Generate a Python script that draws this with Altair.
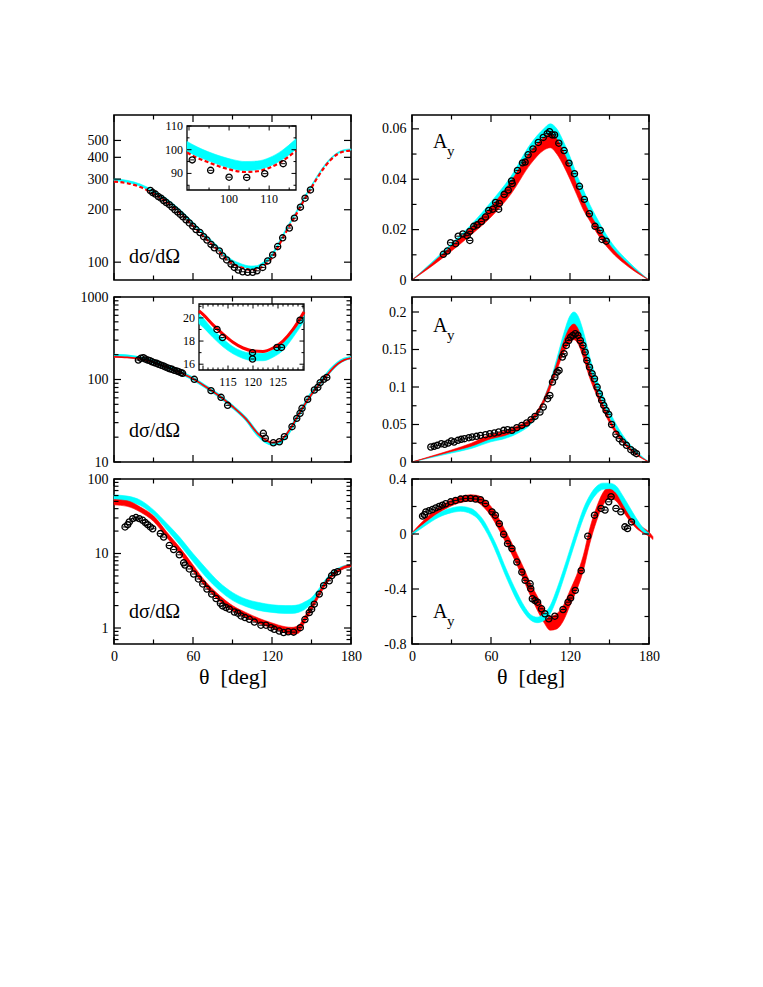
import altair as alt
import pandas as pd

FONT = "Liberation Serif"
CYAN = "#00FFFF"
RED = "#FF0000"
W, H = 237, 165
TMAJ, TMIN = 7, 4.5

# ---------------- Panel 1 (top-left) dsigma/dOmega ----------------
p1_t = [0, 10, 20, 30, 40, 50, 60, 70, 80, 85, 90, 95, 100, 104, 108, 112, 116, 120, 125, 130, 135, 140, 145, 150, 155, 160, 165, 170, 175, 180]
p1_red = [290, 284, 270, 247, 222, 192, 162, 136, 115, 104.5, 98, 94.3, 91.5, 90.3, 90.6, 93.5, 98.5, 106, 124, 146, 170, 198, 232, 268, 310, 352, 390, 418, 433, 437]
p1_cyan_lo = [293, 287, 273, 250, 224, 194, 164, 138, 117, 106, 99.3, 95.4, 92.6, 91.4, 91.7, 94.6, 99.7, 107.5, 125.5, 148, 172, 200, 234, 270, 312, 354, 392, 420, 435, 439]
p1_cyan_hi = [301, 295, 281, 258, 232, 201, 170, 143, 121, 110, 103, 99, 96, 95, 95.3, 98.5, 104, 112, 130, 153, 177, 206, 241, 277, 320, 362, 400, 428, 443, 447]
p1_data_t = [27.6, 29.4, 31.4, 33.7, 35.7, 37.7, 39.7, 42.0, 44.1, 46.3, 48.4, 50.4, 52.4, 54.7, 57.2, 59.8, 62.3, 65.3, 68.1, 70.6, 73.7, 76.2, 80.0, 82.5, 85.6, 88.9, 91.4, 94.4, 97.7, 101.5, 105.3, 108.6, 112.9, 116.7, 120.5, 124.3, 128.1, 133.2, 137.0, 141.6, 145.1, 149.2]
p1_data_v = [258, 251, 246, 238, 233, 226, 220, 214, 207, 200, 194, 188, 182, 175, 168, 161, 154, 148, 140, 134, 126.5, 121, 116, 108.6, 103, 97.5, 93.3, 90.1, 88.1, 87.4, 87.4, 89.2, 93.3, 101.7, 110, 123, 138, 157, 179, 207, 233, 260]
# inset 1
in1_t = [89.5, 92, 95, 98, 101, 104, 107, 110, 113, 116.7]
in1_red = [98.8, 96.6, 94.6, 92.7, 91.3, 90.6, 90.9, 92.3, 94.9, 99.6]
in1_cyan_lo = [99.4, 97.2, 95.2, 93.3, 91.9, 91.2, 91.5, 92.9, 95.5, 100.2]
in1_cyan_hi = [103.5, 101.2, 99, 97.2, 95.8, 95, 95.2, 96.6, 99.4, 104.6]
in1_data_t = [90.8, 95.4, 100.0, 104.4, 108.9, 113.5]
in1_data_v = [95.7, 91.3, 88.4, 88.3, 89.9, 94.1]

# ---------------- Panel 2 (middle-left) ----------------
p2_t = [0, 10, 20, 30, 40, 50, 60, 70, 80, 90, 100, 110, 115, 120, 125, 130, 135, 140, 145, 150, 155, 160, 165, 170, 175, 180]
p2_red = [188, 185, 177, 162, 141, 121, 102, 81, 63, 47, 33.5, 21.5, 18.6, 17.2, 17.6, 20.8, 27, 37, 50, 66, 84, 104, 130, 155, 173, 182]
p2_cyan = [195, 191, 181, 164, 142, 122, 102, 81, 63, 47, 33.5, 21, 17.8, 16.6, 17.0, 20.2, 26.5, 37, 50, 67, 85, 106, 132, 157, 175, 184]
p2_data_t = [18.5, 20.5, 22.3, 23.8, 25.6, 27.3, 28.9, 30.6, 32.4, 33.9, 35.7, 37.5, 39.0, 40.8, 42.5, 44.1, 45.8, 47.6, 49.1, 50.9, 52.1, 61.0, 73.7, 81.3, 86.3, 113.4, 114.9, 121.0, 125.6, 129.4, 135.2, 138.8, 141.3, 142.8, 147.1, 152.2, 154.8, 156.6, 159.3, 161.6]
p2_data_v = [172, 181, 184, 177, 172, 169, 164, 160, 157, 153, 149, 146, 142, 138, 135, 133, 129, 127, 124.5, 121, 119, 100.5, 73.3, 60.8, 48.6, 22.3, 19.4, 17.1, 17.6, 20.3, 26.8, 33.8, 38.9, 44.8, 57.5, 74.6, 80.4, 91.6, 100.5, 106]
# inset 2
in2_t = [109.2, 110, 112, 114, 116, 118, 120, 122, 124, 126, 128, 130.2]
in2_red = [20.6, 20.3, 19.4, 18.6, 17.9, 17.4, 17.15, 17.1, 17.4, 18.0, 19.0, 20.5]
in2_cyan_lo = [19.5, 19.2, 18.3, 17.5, 16.9, 16.5, 16.3, 16.3, 16.6, 17.2, 18.3, 19.7]
in2_cyan_hi = [20.3, 20.0, 19.0, 18.2, 17.5, 17.1, 16.95, 16.95, 17.25, 17.85, 18.9, 20.35]
in2_data_t = [112.8, 113.9, 119.9, 119.9, 124.8, 125.7, 129.4]
in2_data_v = [19.0, 18.3, 17.0, 16.45, 17.45, 17.45, 19.8]

# ---------------- Panel 3 (bottom-left) ----------------
p3_t = [0, 10, 20, 30, 40, 50, 60, 70, 80, 90, 100, 110, 120, 130, 135, 140, 145, 150, 155, 160, 165, 170, 175, 180]
p3_red_lo = [45, 43, 36, 27, 16.5, 10, 5.8, 3.5, 2.3, 1.7, 1.38, 1.15, 1.0, 0.86, 0.82, 0.85, 1.2, 1.7, 2.5, 3.6, 4.7, 5.6, 6.3, 6.6]
p3_red_hi = [53, 51, 42, 32, 19.5, 12, 7, 4.1, 2.75, 2.0, 1.62, 1.35, 1.17, 1.04, 1.02, 1.08, 1.45, 2.0, 2.9, 4.1, 5.2, 6.1, 6.8, 7.1]
p3_cyan_lo = [52, 50, 44, 33, 21, 13, 7.8, 4.8, 3.2, 2.35, 1.95, 1.72, 1.62, 1.57, 1.57, 1.62, 1.78, 2.15, 2.75, 3.8, 4.8, 5.7, 6.3, 6.5]
p3_cyan_hi = [61, 59, 52, 38.5, 25.5, 16.5, 10, 6.3, 4.1, 3.0, 2.45, 2.2, 2.05, 2.0, 2.0, 2.05, 2.25, 2.55, 3.25, 4.35, 5.45, 6.35, 6.9, 7.1]
p3_data_t = [8.4, 10.4, 11.6, 14.2, 16.7, 19.2, 21.8, 23.8, 25.6, 27.6, 29.4, 35.2, 37.7, 42.0, 45.3, 49.6, 52.9, 53.9, 57.2, 60.5, 64.1, 67.4, 70.6, 74.2, 77.5, 80.8, 82.5, 85.1, 87.6, 91.4, 94.0, 96.5, 99.5, 102.8, 106.6, 111.6, 115.4, 119.2, 121.7, 125.5, 128.8, 132.3, 136.4, 141.5, 145.0, 148.3, 150.1, 152.1, 155.9, 159.2, 163.5, 165.3, 167.3, 169.8]
p3_data_v = [22.7, 24.4, 26.5, 29.4, 30.4, 29.4, 27.9, 26, 24.4, 22.7, 21.5, 18.5, 16.6, 12.8, 11.3, 9.6, 7.5, 7.0, 6.2, 5.3, 4.55, 3.9, 3.33, 2.85, 2.49, 2.15, 1.98, 1.88, 1.79, 1.64, 1.58, 1.45, 1.38, 1.31, 1.2, 1.09, 1.09, 1.01, 0.96, 0.91, 0.87, 0.89, 0.88, 1.01, 1.3, 1.61, 1.79, 2.09, 2.85, 3.7, 4.3, 5.04, 5.5, 5.7]

# ---------------- Panel 4 (top-right) A_y ----------------
p4_t = [0, 15, 30, 45, 60, 75, 90, 100, 105, 110, 115, 120, 125, 130, 135, 140, 150, 165, 180]
p4_red_lo = [0, 0.0055, 0.0115, 0.018, 0.025, 0.034, 0.046, 0.0515, 0.0525, 0.050, 0.0455, 0.040, 0.034, 0.028, 0.0235, 0.019, 0.012, 0.005, 0]
p4_red_hi = [0, 0.0065, 0.0135, 0.021, 0.029, 0.039, 0.051, 0.0565, 0.058, 0.056, 0.051, 0.045, 0.038, 0.032, 0.0265, 0.022, 0.014, 0.006, 0]
p4_cyan_lo = [0, 0.006, 0.013, 0.020, 0.027, 0.036, 0.048, 0.054, 0.055, 0.053, 0.049, 0.043, 0.037, 0.031, 0.026, 0.021, 0.0135, 0.0055, 0]
p4_cyan_hi = [0, 0.007, 0.0145, 0.022, 0.031, 0.041, 0.054, 0.060, 0.062, 0.060, 0.055, 0.049, 0.042, 0.036, 0.030, 0.025, 0.016, 0.007, 0]
p4_data_t = [23.8, 26.8, 29.3, 33.1, 35.1, 38.6, 41.9, 43.9, 43.9, 46.9, 49.5, 52.7, 55.8, 58.3, 61.3, 63.5, 66.3, 65.8, 70.0, 73.1, 75.6, 76.1, 80.1, 83.9, 85.9, 88.2, 91.9, 95.9, 99.7, 102.7, 104.5, 106.5, 108.3, 111.5, 115.5, 119.2, 123.4, 127.2, 130.9, 134.7, 139.0, 143.0, 144.3, 147.5]
p4_data_v = [0.0102, 0.0115, 0.0148, 0.0144, 0.0174, 0.0183, 0.0176, 0.0193, 0.0157, 0.0213, 0.0219, 0.0232, 0.0250, 0.0276, 0.0281, 0.0308, 0.0304, 0.0281, 0.0340, 0.0357, 0.0393, 0.0383, 0.0435, 0.0465, 0.0468, 0.0497, 0.0520, 0.0546, 0.0566, 0.0581, 0.0589, 0.0576, 0.0576, 0.0543, 0.0514, 0.0464, 0.0422, 0.0372, 0.032, 0.0263, 0.0213, 0.0197, 0.0161, 0.0154]

# ---------------- Panel 5 (middle-right) ----------------
p5_t = [0, 15, 30, 45, 60, 70, 80, 90, 95, 100, 105, 110, 115, 120, 123, 126, 130, 135, 140, 145, 150, 160, 170, 180]
p5_red_lo = [0, 0.007, 0.014, 0.021, 0.031, 0.035, 0.042, 0.052, 0.062, 0.078, 0.098, 0.122, 0.145, 0.160, 0.163, 0.158, 0.140, 0.112, 0.090, 0.070, 0.052, 0.026, 0.010, 0]
p5_red_hi = [0, 0.008, 0.016, 0.025, 0.037, 0.041, 0.048, 0.058, 0.068, 0.084, 0.106, 0.132, 0.160, 0.180, 0.184, 0.178, 0.158, 0.125, 0.098, 0.077, 0.058, 0.030, 0.012, 0]
p5_cyan_lo = [0, 0.006, 0.012, 0.018, 0.027, 0.031, 0.038, 0.050, 0.061, 0.078, 0.100, 0.127, 0.155, 0.172, 0.176, 0.172, 0.155, 0.125, 0.100, 0.080, 0.060, 0.031, 0.012, 0]
p5_cyan_hi = [0, 0.007, 0.014, 0.021, 0.032, 0.036, 0.044, 0.055, 0.066, 0.084, 0.108, 0.138, 0.170, 0.195, 0.200, 0.195, 0.175, 0.140, 0.112, 0.089, 0.068, 0.036, 0.015, 0]
p5_data_t = [14.3, 16.8, 19.3, 22.3, 24.8, 27.4, 29.9, 31.9, 34.9, 37.4, 39.9, 43.2, 45.7, 49.0, 52.0, 55.8, 59.1, 62.5, 65.8, 69.6, 72.6, 75.9, 79.6, 83.4, 87.1, 90.4, 93.4, 97.2, 99.7, 103.0, 104.7, 106.7, 108.5, 110.2, 111.7, 114.2, 115.5, 117.2, 119.0, 120.5, 122.2, 124.0, 126.0, 127.8, 129.8, 131.5, 132.8, 134.8, 136.8, 138.6, 140.6, 142.3, 144.1, 145.6, 147.4, 149.4, 151.6, 154.9, 157.4, 159.9, 162.9, 166.2, 168.7, 170.5]
p5_data_v = [0.020, 0.0209, 0.0222, 0.0244, 0.0235, 0.0253, 0.028, 0.0266, 0.0289, 0.0302, 0.0311, 0.0324, 0.0333, 0.0342, 0.0355, 0.0364, 0.0377, 0.0386, 0.040, 0.0422, 0.0431, 0.0422, 0.0457, 0.0488, 0.052, 0.0564, 0.0608, 0.0666, 0.0733, 0.0844, 0.0888, 0.1066, 0.1132, 0.1199, 0.1221, 0.14, 0.1444, 0.1554, 0.162, 0.1665, 0.1688, 0.171, 0.1688, 0.162, 0.1554, 0.1465, 0.1354, 0.1265, 0.1177, 0.111, 0.0999, 0.091, 0.0821, 0.0755, 0.0688, 0.0635, 0.050, 0.037, 0.0311, 0.0266, 0.0222, 0.0164, 0.0133, 0.0111]

# ---------------- Panel 6 (bottom-right) ----------------
p6_red_t = [0, 10, 20, 30, 40, 45, 50, 55, 60, 65, 70, 75, 80, 85, 90, 95, 100, 105, 110, 115, 120, 125, 130, 135, 140, 145, 150, 155, 160, 165, 170, 175, 180, 183]
p6_red_lo = [-0.01, 0.08, 0.15, 0.205, 0.235, 0.24, 0.23, 0.19, 0.13, 0.05, -0.04, -0.13, -0.23, -0.34, -0.45, -0.55, -0.64, -0.70, -0.69, -0.63, -0.52, -0.41, -0.27, -0.07, 0.09, 0.21, 0.26, 0.24, 0.17, 0.1, 0.045, 0.01, -0.015, -0.04]
p6_red_hi = [0.01, 0.11, 0.19, 0.25, 0.28, 0.285, 0.28, 0.25, 0.2, 0.13, 0.04, -0.05, -0.15, -0.25, -0.36, -0.45, -0.54, -0.60, -0.58, -0.52, -0.41, -0.30, -0.16, 0.04, 0.19, 0.3, 0.345, 0.33, 0.25, 0.17, 0.1, 0.05, 0.015, -0.02]
p6_cyan_t = [0, 10, 20, 30, 37, 45, 50, 55, 60, 65, 70, 75, 80, 85, 90, 95, 100, 105, 110, 115, 120, 125, 130, 135, 140, 145, 150, 155, 160, 165, 170, 175, 180]
p6_cyan_lo = [-0.005, 0.06, 0.12, 0.155, 0.165, 0.145, 0.11, 0.04, -0.05, -0.16, -0.28, -0.39, -0.49, -0.57, -0.625, -0.645, -0.63, -0.58, -0.47, -0.33, -0.18, -0.03, 0.11, 0.22, 0.29, 0.325, 0.33, 0.3, 0.22, 0.14, 0.07, 0.02, -0.005]
p6_cyan_hi = [0.005, 0.08, 0.15, 0.19, 0.2, 0.185, 0.15, 0.09, 0.0, -0.1, -0.22, -0.33, -0.43, -0.52, -0.585, -0.605, -0.58, -0.52, -0.4, -0.26, -0.11, 0.04, 0.18, 0.28, 0.345, 0.37, 0.37, 0.35, 0.28, 0.2, 0.12, 0.05, 0.005]
p6_data_t = [8.0, 9.5, 10.5, 13.0, 15.5, 18.1, 20.6, 23.1, 25.6, 29.4, 33.1, 36.9, 40.7, 44.5, 48.2, 52.0, 55.8, 60.8, 63.3, 66.3, 69.6, 72.6, 75.9, 79.6, 83.4, 85.9, 89.7, 90.2, 91.4, 93.4, 95.4, 98.4, 100.9, 103.9, 108.5, 114.7, 118.5, 120.5, 124.0, 128.5, 133.5, 138.6, 143.6, 146.6, 149.4, 151.2, 154.9, 158.6, 161.7, 163.7, 166.7]
p6_data_v = [0.13, 0.14, 0.161, 0.169, 0.178, 0.19, 0.2, 0.21, 0.22, 0.234, 0.244, 0.254, 0.259, 0.259, 0.254, 0.249, 0.222, 0.161, 0.137, 0.075, -0.002, -0.07, -0.106, -0.204, -0.277, -0.337, -0.362, -0.398, -0.471, -0.484, -0.496, -0.544, -0.58, -0.617, -0.598, -0.549, -0.496, -0.466, -0.41, -0.267, -0.016, 0.137, 0.186, 0.174, 0.234, 0.271, 0.186, 0.161, 0.052, 0.04, 0.088]

# ---------------- tick values ----------------
x_major = [0, 60, 120, 180]
x_minor = [30, 90, 150]
p1_y_major = [100, 200, 300, 400, 500]
p2_y_major = [10, 100, 1000]
p2_y_minor = [20, 30, 40, 50, 60, 70, 80, 90, 200, 300, 400, 500, 600, 700, 800, 900]
p3_y_major = [1, 10, 100]
p3_y_minor = [0.7, 0.8, 0.9, 2, 3, 4, 5, 6, 7, 8, 9, 20, 30, 40, 50, 60, 70, 80, 90]
p4_y_major = [0, 0.02, 0.04, 0.06]
p4_y_minor = [0.01, 0.03, 0.05]
p5_y_major = [0, 0.05, 0.1, 0.15, 0.2]
p5_y_minor = [0.025, 0.075, 0.125, 0.175]
p6_y_major = [-0.8, -0.4, 0, 0.4]
p6_y_minor = [-0.6, -0.2, 0.2]
in1_x_major = [90, 100, 110]
in1_x_minor = [95, 105, 115]
in1_y_major = [90, 100, 110]
in1_y_minor = [85, 95, 105]
in1_x_labels = [100, 110]
in2_x_major = [110, 115, 120, 125, 130]
in2_x_minor = [111, 112, 113, 114, 116, 117, 118, 119, 121, 122, 123, 124, 126, 127, 128, 129]
in2_y_major = [16, 18, 20]
in2_y_minor = [17, 19, 21]
in2_x_labels = [115, 120, 125]


def sc(domain, log=False, rng=None):
    kw = dict(domain=domain, nice=False)
    if log:
        kw["type"] = "log"
    else:
        kw["zero"] = False
    if rng is not None:
        kw["range"] = rng
    return alt.Scale(**kw)


def band(t, lo, hi, color, xs, ys, sw=0.6, ax=None, ay=None):
    df = pd.DataFrame({"t": t, "lo": lo, "hi": hi})
    return alt.Chart(df).mark_area(
        color=color, stroke=color, strokeWidth=sw, opacity=1, interpolate="monotone"
    ).encode(
        x=alt.X("t:Q", scale=xs, axis=ax),
        y=alt.Y("lo:Q", scale=ys, axis=ay),
        y2=alt.Y2("hi:Q"),
    )


def line(t, v, color, xs, ys, sw=2.0, dash=None, ax=None, ay=None):
    df = pd.DataFrame({"t": t, "v": v})
    kw = dict(color=color, strokeWidth=sw, opacity=1, interpolate="monotone")
    if dash:
        kw["strokeDash"] = dash
    return alt.Chart(df).mark_line(**kw).encode(
        x=alt.X("t:Q", scale=xs, axis=ax),
        y=alt.Y("v:Q", scale=ys, axis=ay),
    )


def points(t, v, xs, ys, size=38):
    df = pd.DataFrame({"t": t, "v": v})
    base = alt.Chart(df).encode(
        x=alt.X("t:Q", scale=xs, axis=None),
        y=alt.Y("v:Q", scale=ys, axis=None),
    )
    return [
        base.mark_point(shape="circle", size=size, filled=False, color="black",
                        strokeWidth=1.3, opacity=1),
        base.mark_point(shape="M-0.7,0L0.7,0", size=size, filled=False, color="black",
                        strokeWidth=1, opacity=1),
    ]


def ticks(xs, ys, box, xmaj, xmin, ymaj, ymin, lmaj=TMAJ, lmin=TMIN, sw=1.2):
    x0, x1, y0, y1 = box
    out = []
    for vals, L in ((xmaj, lmaj), (xmin, lmin)):
        if vals:
            r = alt.Chart(pd.DataFrame({"v": vals})).mark_rule(color="black", strokeWidth=sw)
            out.append(r.encode(x=alt.X("v:Q", scale=xs, axis=None), y=alt.value(y1 - L), y2=alt.value(y1)))
            out.append(r.encode(x=alt.X("v:Q", scale=xs, axis=None), y=alt.value(y0), y2=alt.value(y0 + L)))
    for vals, L in ((ymaj, lmaj), (ymin, lmin)):
        if vals:
            r = alt.Chart(pd.DataFrame({"v": vals})).mark_rule(color="black", strokeWidth=sw)
            out.append(r.encode(y=alt.Y("v:Q", scale=ys, axis=None), x=alt.value(x0), x2=alt.value(x0 + L)))
            out.append(r.encode(y=alt.Y("v:Q", scale=ys, axis=None), x=alt.value(x1 - L), x2=alt.value(x1)))
    return out


def label(text, x, y, size):
    return alt.Chart(pd.DataFrame({"a": [0]})).mark_text(
        text=text, font=FONT, fontSize=size, align="left", baseline="alphabetic", color="black"
    ).encode(x=alt.value(x), y=alt.value(y))


def xlabels(vals, xs, y, size=12):
    df = pd.DataFrame({"v": vals, "s": [str(v) for v in vals]})
    return alt.Chart(df).mark_text(font=FONT, fontSize=size, align="center", baseline="top",
                                   color="black").encode(
        x=alt.X("v:Q", scale=xs, axis=None), y=alt.value(y), text="s:N")


def ylabels(vals, ys, x, size=12):
    df = pd.DataFrame({"v": vals, "s": [str(v) for v in vals]})
    return alt.Chart(df).mark_text(font=FONT, fontSize=size, align="right", baseline="middle",
                                   color="black").encode(
        y=alt.Y("v:Q", scale=ys, axis=None), x=alt.value(x), text="s:N")


def yaxis(values, fmt, expr=None):
    kw = dict(values=values, format=fmt, ticks=False, domain=False, grid=False, title=None,
              labelPadding=6, labelFontSize=14, labelFont=FONT, labelColor="black",
              labelOverlap=False, labelFlush=False)
    if expr:
        kw["labelExpr"] = expr
    return alt.Axis(**kw)


XAXIS = alt.Axis(values=x_major, format="d", ticks=False, domain=False, grid=False,
                 labelPadding=5, labelFontSize=14, labelFont=FONT, labelColor="black",
                 labelFlush=False, labelOverlap=False,
                 title="\u03b8\u00a0\u00a0[deg]", titleFont=FONT, titleFontSize=22,
                 titleFontWeight="normal", titleColor="black", titlePadding=3)

XS = sc([0, 180])
BOX = (0, W, 0, H)


def panel(layers):
    return alt.layer(*layers).properties(width=W, height=H).resolve_scale(
        x="independent", y="independent")


# ---------- panel 1 ----------
ys1 = sc([79, 700], log=True)
xi1 = sc([89.5, 116.7], rng=[73, 182])
yi1 = sc([83, 110], rng=[75, 11])
frame1 = alt.Chart(pd.DataFrame({"a": [89.5], "b": [116.7], "c": [83], "d": [110]})).mark_rect(
    fill="white", stroke="black", strokeWidth=1.3).encode(
    x=alt.X("a:Q", scale=xi1, axis=None), x2="b:Q",
    y=alt.Y("c:Q", scale=yi1, axis=None), y2="d:Q")
L1 = [band(p1_t, p1_cyan_lo, p1_cyan_hi, CYAN, XS, ys1, ay=yaxis(p1_y_major, "d")),
      line(p1_t, p1_red, RED, XS, ys1, sw=2.2, dash=[4, 2.5])]
L1 += points(p1_data_t, p1_data_v, XS, ys1)
L1 += ticks(XS, ys1, BOX, x_major, x_minor, p1_y_major, [])
L1 += [label("d\u03c3/d\u03a9", 15, 148, 20), frame1,
       band(in1_t, in1_cyan_lo, in1_cyan_hi, CYAN, xi1, yi1),
       line(in1_t, in1_red, RED, xi1, yi1, sw=2.2, dash=[4, 2.5])]
L1 += points(in1_data_t, in1_data_v, xi1, yi1)
L1 += ticks(xi1, yi1, (73, 182, 11, 75), in1_x_major, in1_x_minor, in1_y_major, in1_y_minor, 4.5, 2.5, 1)
L1 += [xlabels(in1_x_labels, xi1, 79), ylabels(in1_y_major, yi1, 69)]
P1 = panel(L1)

# ---------- panel 2 ----------
ys2 = sc([10, 1000], log=True)
xi2 = sc([109.2, 130.2], rng=[85, 190])
yi2 = sc([15.5, 21.2], rng=[73, 7])
frame2 = alt.Chart(pd.DataFrame({"a": [109.2], "b": [130.2], "c": [15.5], "d": [21.2]})).mark_rect(
    fill="white", stroke="black", strokeWidth=1.3).encode(
    x=alt.X("a:Q", scale=xi2, axis=None), x2="b:Q",
    y=alt.Y("c:Q", scale=yi2, axis=None), y2="d:Q")
L2 = [line(p2_t, p2_cyan, CYAN, XS, ys2, sw=3.5, ay=yaxis(p2_y_major, "d")),
      line(p2_t, p2_red, RED, XS, ys2, sw=1.8)]
L2 += points(p2_data_t, p2_data_v, XS, ys2)
L2 += ticks(XS, ys2, BOX, x_major, x_minor, p2_y_major, p2_y_minor)
L2 += [label("d\u03c3/d\u03a9", 15, 140, 20), frame2,
       band(in2_t, in2_cyan_lo, in2_cyan_hi, CYAN, xi2, yi2),
       line(in2_t, in2_red, RED, xi2, yi2, sw=3)]
L2 += points(in2_data_t, in2_data_v, xi2, yi2)
L2 += ticks(xi2, yi2, (85, 190, 7, 73), in2_x_major, in2_x_minor, in2_y_major, in2_y_minor, 4.5, 2.5, 1)
L2 += [xlabels(in2_x_labels, xi2, 80), ylabels(in2_y_major, yi2, 81)]
P2 = panel(L2)

# ---------- panel 3 ----------
ys3 = sc([0.61, 100], log=True)
L3 = [band(p3_t, p3_cyan_lo, p3_cyan_hi, CYAN, XS, ys3, ax=XAXIS, ay=yaxis(p3_y_major, "d")),
      band(p3_t, p3_red_lo, p3_red_hi, RED, XS, ys3)]
L3 += points(p3_data_t, p3_data_v, XS, ys3)
L3 += ticks(XS, ys3, BOX, x_major, x_minor, p3_y_major, p3_y_minor)
L3 += [label("d\u03c3/d\u03a9", 15, 139, 20)]
P3 = panel(L3)

# ---------- panel 4 ----------
ys4 = sc([0, 0.0655])
L4 = [band(p4_t, p4_cyan_lo, p4_cyan_hi, CYAN, XS, ys4, ay=yaxis(p4_y_major, ".2~f")),
      band(p4_t, p4_red_lo, p4_red_hi, RED, XS, ys4)]
L4 += points(p4_data_t, p4_data_v, XS, ys4)
L4 += ticks(XS, ys4, BOX, x_major, x_minor, p4_y_major, p4_y_minor)
L4 += [label("A", 21, 33, 20), label("y", 35, 41, 15)]
P4 = panel(L4)

# ---------- panel 5 ----------
ys5 = sc([0, 0.22])
L5 = [band(p5_t, p5_cyan_lo, p5_cyan_hi, CYAN, XS, ys5, ay=yaxis(p5_y_major, ".2~f")),
      band(p5_t, p5_red_lo, p5_red_hi, RED, XS, ys5)]
L5 += points(p5_data_t, p5_data_v, XS, ys5)
L5 += ticks(XS, ys5, BOX, x_major, x_minor, p5_y_major, p5_y_minor)
L5 += [label("A", 21, 35, 20), label("y", 35, 43, 15)]
P5 = panel(L5)

# ---------- panel 6 ----------
ys6 = sc([-0.8, 0.4])
L6 = [band(p6_red_t, p6_red_lo, p6_red_hi, RED, XS, ys6, ax=XAXIS,
           ay=yaxis(p6_y_major, ".1~f", "replace(datum.label, '\u2212', '-')")),
      band(p6_cyan_t, p6_cyan_lo, p6_cyan_hi, CYAN, XS, ys6)]
L6 += points(p6_data_t, p6_data_v, XS, ys6)
L6 += ticks(XS, ys6, BOX, x_major, x_minor, p6_y_major, p6_y_minor)
L6 += [label("A", 21, 139, 20), label("y", 35, 147, 15)]
P6 = panel(L6)

chart = alt.concat(
    P1, P4, P2, P5, P3, P6, columns=2,
    spacing={"row": 17, "column": 61}, bounds="flush",
).properties(
    padding={"left": 71, "top": 105, "right": 5, "bottom": 5}
).configure(font=FONT).configure_view(stroke="black", strokeWidth=1.6).configure_axis(grid=False)

chart.save("out.html", embed_options={"renderer": "svg", "actions": False})
